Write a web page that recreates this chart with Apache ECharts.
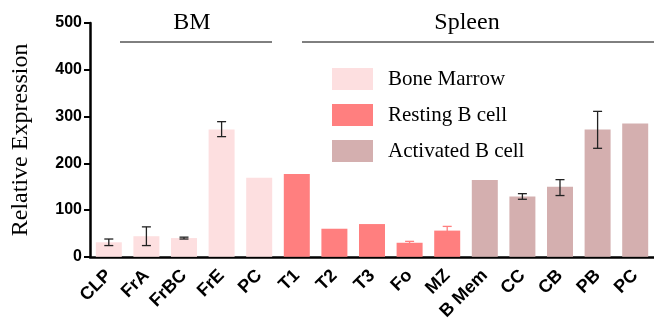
<!DOCTYPE html>
<html>
<head>
<meta charset="utf-8">
<script src="https://cdn.jsdelivr.net/npm/echarts@6/dist/echarts.min.js"></script>
<style>
  html, body { margin: 0; padding: 0; background: #fff; }
  #chart { width: 654px; height: 323px; }
</style>
</head>
<body>
<div id="chart"></div>
<script>
// categories along x
var categories = ['CLP', 'FrA', 'FrBC', 'FrE', 'PC', 'T1', 'T2', 'T3', 'Fo', 'MZ', 'B Mem', 'CC', 'CB', 'PB', 'PC'];
// bar heights per group ('-' = not in group)
var boneMarrow = [31, 44, 40, 272, 169, '-', '-', '-', '-', '-', '-', '-', '-', '-', '-'];
var restingB = ['-', '-', '-', '-', '-', 177, 60, 70, 30, 56, '-', '-', '-', '-', '-'];
var activatedB = ['-', '-', '-', '-', '-', '-', '-', '-', '-', '-', 164, 129, 150, 272, 285];
// error bar ends (null = no error bar)
var errLow = [24, 24, 38, 257, null, null, null, null, 27, 47, null, 123, 131, 232, null];
var errHigh = [38, 64, 42, 289, null, null, null, null, 33, 65, null, 135, 165, 311, null];
var yTicks = { min: 0, max: 500, interval: 100 };

var colors = ['#fddfe0', '#ff7f7f', '#d4afaf'];

var errData = [];
for (var i = 0; i < categories.length; i++) {
  if (errLow[i] != null) errData.push([i, errLow[i], errHigh[i]]);
}

var chart = echarts.init(document.getElementById('chart'));
var option = {
  animation: false,
  color: colors,
  grid: { left: 90, right: 0, top: 23, bottom: 65 },
  legend: {
    orient: 'vertical',
    left: 327,
    top: 63,
    itemWidth: 41,
    itemHeight: 22,
    itemGap: 14,
    icon: 'rect',
    data: ['Bone Marrow', 'Resting B cell', 'Activated B cell'],
    textStyle: { fontFamily: 'Liberation Serif', fontSize: 21, color: '#000', padding: [0, 0, 0, 10] }
  },
  xAxis: {
    type: 'category',
    data: categories,
    axisLine: { lineStyle: { color: '#000', width: 2.5 } },
    axisTick: { alignWithLabel: true, length: 6, lineStyle: { color: '#000', width: 2 } },
    axisLabel: {
      rotate: 45,
      interval: 0,
      margin: 16,
      fontFamily: 'Liberation Sans',
      fontWeight: 'bold',
      fontSize: 18,
      color: '#000'
    }
  },
  yAxis: {
    type: 'value',
    min: yTicks.min,
    max: yTicks.max,
    interval: yTicks.interval,
    name: 'Relative Expression',
    nameLocation: 'middle',
    nameGap: 57,
    nameTextStyle: { fontFamily: 'Liberation Serif', fontSize: 24, color: '#000' },
    axisLine: { show: true, lineStyle: { color: '#000', width: 2.5 } },
    axisTick: { show: true, length: 6, lineStyle: { color: '#000', width: 2 } },
    splitLine: { show: false },
    axisLabel: {
      margin: 8,
      fontFamily: 'Liberation Sans',
      fontWeight: 'bold',
      fontSize: 16,
      color: '#000'
    }
  },
  graphic: [
    { type: 'text', x: 192, y: 23, style: { text: 'BM', font: '24px "Liberation Serif"', fill: '#000', textAlign: 'center', textVerticalAlign: 'middle' } },
    { type: 'line', shape: { x1: 120, y1: 42, x2: 272, y2: 42 }, style: { stroke: '#000', lineWidth: 1 } },
    { type: 'text', x: 467, y: 23, style: { text: 'Spleen', font: '24px "Liberation Serif"', fill: '#000', textAlign: 'center', textVerticalAlign: 'middle' } },
    { type: 'line', shape: { x1: 302, y1: 42, x2: 654, y2: 42 }, style: { stroke: '#000', lineWidth: 1 } }
  ],
  series: [
    { name: 'Bone Marrow', type: 'bar', stack: 'g', barWidth: 26, data: boneMarrow },
    { name: 'Resting B cell', type: 'bar', stack: 'g', barWidth: 26, data: restingB },
    { name: 'Activated B cell', type: 'bar', stack: 'g', barWidth: 26, data: activatedB },
    {
      type: 'custom',
      z: 5,
      data: errData,
      renderItem: function (params, api) {
        var idx = api.value(0);
        var lo = api.coord([idx, api.value(1)]);
        var hi = api.coord([idx, api.value(2)]);
        var half = 4.5;
        var stroke = (idx >= 5 && idx <= 9) ? '#ff7f7f' : '#222';
        return {
          type: 'group',
          children: [
            { type: 'line', shape: { x1: hi[0], y1: hi[1], x2: lo[0], y2: lo[1] }, style: { stroke: stroke, lineWidth: 1.3 } },
            { type: 'line', shape: { x1: hi[0] - half, y1: hi[1], x2: hi[0] + half, y2: hi[1] }, style: { stroke: stroke, lineWidth: 1.3 } },
            { type: 'line', shape: { x1: lo[0] - half, y1: lo[1], x2: lo[0] + half, y2: lo[1] }, style: { stroke: stroke, lineWidth: 1.3 } }
          ]
        };
      }
    }
  ]
};
chart.setOption(option);
</script>
</body>
</html>
